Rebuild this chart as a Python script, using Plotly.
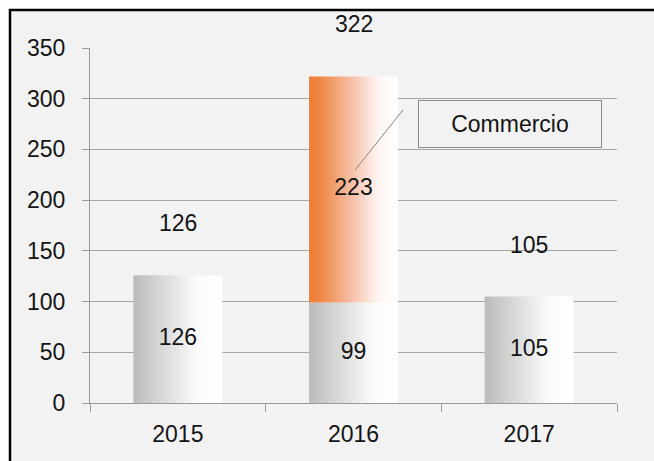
import plotly.graph_objects as go

# ---- data ----
years = ["2015", "2016", "2017"]
base_values = [126, 99, 105]          # gray segment
commercio_values = [0, 223, 0]        # orange segment
totals = [126, 322, 105]
y_ticks = [0, 50, 100, 150, 200, 250, 300, 350]

FONT = "Liberation Sans, Arial, sans-serif"
FS = 23
TXT = "#141414"
BAR_W = 0.506

gray_scale = [[0, "#bababa"], [0.12, "#c6c6c6"], [0.72, "#fbfbfb"], [1, "#ffffff"]]
orange_scale = [[0, "#ed7d31"], [0.15, "#ef8a4a"], [0.5, "#f6c4ad"], [0.78, "#fff6f3"], [1, "#ffffff"]]

fig = go.Figure()

def add_rect(i, base, val, scale):
    x0, x1 = i - BAR_W / 2, i + BAR_W / 2
    fig.add_trace(go.Scatter(
        x=[x0, x1, x1, x0, x0],
        y=[base, base, base + val, base + val, base],
        mode="lines", line=dict(width=0, color="rgba(0,0,0,0)"),
        fill="toself",
        fillgradient=dict(type="horizontal", colorscale=scale),
        hoverinfo="skip", showlegend=False,
    ))

for i, v in enumerate(base_values):
    add_rect(i, 0, v, gray_scale)
for i, v in enumerate(commercio_values):
    if v > 0:
        add_rect(i, base_values[i], v, orange_scale)

# segment labels (text-only scatter at segment centers)
lab_x, lab_y, lab_t = [], [], []
for i, v in enumerate(base_values):
    lab_x.append(i); lab_y.append(v / 2); lab_t.append(str(v))
for i, v in enumerate(commercio_values):
    if v > 0:
        lab_x.append(i); lab_y.append(base_values[i] + v / 2); lab_t.append(str(v))
fig.add_trace(go.Scatter(
    x=lab_x, y=lab_y, text=lab_t, mode="text",
    textfont=dict(family=FONT, size=FS, color=TXT),
    hoverinfo="skip", showlegend=False,
))

# total labels above bars
for i, t in enumerate(totals):
    fig.add_annotation(x=i, y=t, text=str(t), showarrow=False, yshift=52,
                       xref="x", yref="y",
                       font=dict(family=FONT, size=FS, color=TXT))

# "Commercio" callout box
fig.add_annotation(x=1.89, y=275, xref="x", yref="y", text="Commercio",
                   showarrow=False, width=180, height=44,
                   bordercolor="#8c8c8c", borderwidth=1, bgcolor="#f2f2f2",
                   font=dict(family=FONT, size=FS, color=TXT))
# leader line
fig.add_shape(type="line", xref="x", yref="y", x0=1.0085, y0=229.7, x1=1.2818, y1=288.9,
              line=dict(color="#808080", width=1))

# outer chart frame (left and top edges visible; right/bottom run off the image)
fig.add_shape(type="rect", xref="paper", yref="paper",
              x0=(10 - 90) / 527, x1=1.3, y0=-0.4, y1=(403 - 10) / 355,
              line=dict(color="#000000", width=2.5), fillcolor="#f2f2f2", layer="below")

fig.update_layout(
    width=654, height=461,
    margin=dict(l=90, r=37, t=48, b=58),
    paper_bgcolor="#ffffff",
    plot_bgcolor="rgba(0,0,0,0)",
    showlegend=False,
    font=dict(family=FONT, size=FS, color=TXT),
    xaxis=dict(
        range=[-0.5, 2.5], tickvals=[0, 1, 2], ticktext=years,
        ticks="", showgrid=False, zeroline=False,
        showline=True, linecolor="#9a9a9a", linewidth=1,
        tickfont=dict(family=FONT, size=FS, color=TXT),
        ticklabelstandoff=10,
        minor=dict(tickvals=[-0.5, 0.5, 1.5, 2.5], ticks="outside", ticklen=8,
                   tickcolor="#9a9a9a", tickwidth=1, showgrid=False),
        fixedrange=True,
    ),
    yaxis=dict(
        range=[0, 350], tickvals=y_ticks,
        ticks="outside", ticklen=7, tickcolor="#9a9a9a", tickwidth=1,
        showgrid=True, gridcolor="#a6a6a6", gridwidth=1,
        zeroline=False, showline=True, linecolor="#9a9a9a", linewidth=1,
        tickfont=dict(family=FONT, size=FS, color=TXT),
        ticklabelstandoff=12,
        fixedrange=True,
    ),
)

fig.write_html(
    "out.html",
    config={"displayModeBar": False, "staticPlot": True},
    post_script="document.body.style.margin='0';document.body.style.overflow='hidden';",
)
